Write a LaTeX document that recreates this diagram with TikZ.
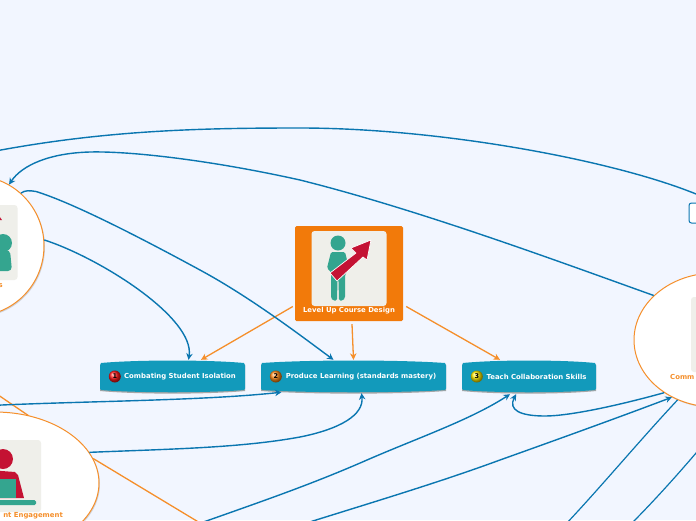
\documentclass[tikz,border=0pt]{standalone}
\usepackage{fontspec}
\setsansfont{DejaVu Sans}
\usetikzlibrary{positioning, shapes.geometric, shadows, arrows.meta}

\definecolor{pagebg}{HTML}{F2F6FF}
\definecolor{linkblue}{HTML}{0A76B0}
\definecolor{linkorange}{HTML}{F58F2B}
\definecolor{boxorange}{HTML}{F27A0A}
\definecolor{barblue}{HTML}{129ABB}
\definecolor{iconbg}{HTML}{EFEFEA}
\definecolor{iconteal}{HTML}{34A58F}
\definecolor{iconred}{HTML}{C41233}

\tikzset{
	smalltext/.style={font=\sffamily\bfseries\fontsize{6.9}{8}\selectfont},
	link/.style={draw=linkblue, line width=1.4pt, -{Stealth[length=6.5pt, width=6.5pt]}},
	plainlink/.style={draw=linkblue, line width=1.4pt},
	thinlink/.style={draw=linkblue, line width=1.2pt},
	branch/.style={draw=linkorange, line width=1.3pt, -{Stealth[length=6.5pt, width=6.5pt]}},
	plainbranch/.style={draw=linkorange, line width=1.3pt},
	bubble/.style={ellipse, draw=linkorange, fill=white, line width=1pt, inner sep=0pt, drop shadow={shadow xshift=1pt, shadow yshift=-1.2pt, opacity=.3}},
	bubbletext/.style={smalltext, text=linkorange, inner sep=0pt},
	iconbox/.style={fill=iconbg, rounded corners=3pt, inner sep=0pt},
	topic/.style={smalltext, text=white, inner sep=0pt, minimum height=33pt},
	badge/.style={circle, inner sep=0pt, minimum size=12pt, font=\sffamily\bfseries\fontsize{6.5}{7}\selectfont}
}

% bar body first, then its node: name, centre x, width, text
\newcommand{\topicbar}[4]{
	\begin{scope}[shift={(#2,376.5)}]
		\fill [black!35] ({-#3/2},-12) -- ({-#3/2},14.5) .. controls ({-#3/4},18) and ({#3/4},18) .. ({#3/2},14.5) -- ({#3/2},-12) -- cycle;
		\fill [barblue] ({-#3/2+1},-13.5) .. controls ({-#3/4},-16.8) and ({#3/4},-16.8) .. ({#3/2-1},-13.5) -- ({#3/2},-11) -- ({#3/2},12) -- ({#3/2-1},13.5) .. controls ({#3/4},16.5) and ({-#3/4},16.5) .. ({-#3/2+1},13.5) -- ({-#3/2},12) -- ({-#3/2},-11) -- cycle;
	\end{scope}
	\node [topic, minimum width=#3pt] (#1) at (#2,376.5) {\hspace*{15pt}#4};
}

\begin{document}
\begin{tikzpicture}[x=1pt, y=-1pt]
	\useasboundingbox (0,0) rectangle (696,520);
	\clip (0,0) rectangle (696,520);
	\fill [pagebg] (0,0) rectangle (696,520);

	\coordinate (topend) at (-20,154);
	\coordinate (sideend) at (-20,406);
	\coordinate (branchin) at (-15,386);
	\coordinate (branchout) at (215,532);
	\coordinate (lowone) at (195,525);
	\coordinate (lowtwo) at (300,525);
	\coordinate (lowthree) at (565,525);
	\coordinate (lowfour) at (630,525);
	\coordinate (sidefour) at (702,446);

	\node [draw=linkblue, fill=white, line width=1pt, rounded corners=2.5pt, minimum width=52pt, minimum height=20pt] (note) at (715,213) {};

	% main box and the bars under it
	\node [fill=boxorange, rounded corners=1.5pt, minimum width=108pt, minimum height=95pt, inner sep=0pt] (course) at (349,273.5) {};
	\node [iconbox, minimum width=75pt, minimum height=75pt, below=5pt of course.north] (courseicon) {};
	\node [smalltext, text=white, inner sep=0pt] (coursetitle) at (349,311) {Level Up Course Design};

	\topicbar{isolation}{172.5}{145}{Combating Student Isolation}
	\topicbar{learning}{353.5}{185}{Produce Learning (standards mastery)}
	\topicbar{collab}{529}{134}{Teach Collaboration Skills}

	\node [badge, ball color=red!90, text=black, right=15pt of isolation.west, anchor=center] (badgeone) {1};
	\node [badge, ball color=orange!90, text=black, right=15pt of learning.west, anchor=center] (badgetwo) {2};
	\node [badge, ball color=yellow!85!orange, text=black, right=15pt of collab.west, anchor=center] (badgethree) {3};

	\draw [plainbranch] (branchin) -- (29,416);

	\node [bubble, minimum width=138pt, minimum height=140pt] (sidecircle) at (-25,246) {};
	\node [bubble, minimum width=208pt, minimum height=142pt] (lowcircle) at (-5,483) {};
	\node [bubble, minimum width=162pt, minimum height=134pt] (rightcircle) at (715,340) {};

	\node [iconbox, minimum width=77pt, minimum height=75pt] (sideicon) at (-21,242.5) {};
	\node [iconbox, minimum width=77pt, minimum height=72pt] (lowicon) at (2.5,476) {};
	\node [iconbox, minimum width=77pt, minimum height=75pt] (righticon) at (729.5,334.5) {};

	\node [bubbletext, anchor=east] (sidetitle) at (3,286) {s};
	\node [bubbletext, anchor=east] (lowtitle) at (63,516) {nt Engagement};
	\node [bubbletext, anchor=west] (righttitle) at (670,377) {Comm};

	% person with arrow
	\fill [iconteal] (338,243) circle (7.5);
	\fill [iconteal, rounded corners=1.5pt] (331,252) -- (345,252) -- (349,268) -- (345,275) -- (345,298) -- (343,300.5) -- (339,300.5) -- (338.5,280) -- (337.5,280) -- (337,300.5) -- (333,300.5) -- (331,298) -- (331,272) -- (327,268) -- cycle;
	\draw [fill=iconred, draw=white, line width=.7pt, line join=round] (351,248) -- (371,240) -- (367,260) -- (363,257) -- (337,281) -- (330,273) -- (356,253) -- cycle;

	% side and low icons
	\fill [iconred] (-3,213) -- (2,220) -- (-3,220) -- cycle;
	\fill [iconteal] (3,243) circle (9);
	\fill [iconteal, rounded corners=4pt] (-12,250) -- (10,250) -- (12,271) -- (-12,271) -- cycle;
	\fill [iconred] (3,459) circle (10);
	\fill [iconred] (-12,470) -- (15,472) -- (18,475) -- (24,498) -- (-12,498) -- cycle;
	\fill [iconteal] (-12,479) rectangle (16,498);
	\fill [iconteal, rounded corners=1.5pt] (-12,500) rectangle (36,505);

	% course branches
	\draw [branch] ([xshift=-2pt, yshift=-33pt]course.west) -- ([xshift=28.5pt]isolation.north);
	\draw [branch] ([xshift=3pt, yshift=-3pt]course.south) -- (learning.north);
	\draw [branch] ([xshift=3pt, yshift=-33pt]course.east) -- ([xshift=-29pt]collab.north);
	\draw [plainbranch] (lowcircle.14) -- (branchout);

	% blue connectors
	\draw [plainlink] (topend) .. controls (100,130) and (200,128) .. (300,128) .. controls (450,128) and (640,165) .. (note.north);
	\draw [link] (rightcircle.144) .. controls (560,262) and (420,210) .. (300,180) .. controls (210,160) and (130,151) .. (90,152) .. controls (50,153) and (22,165) .. (sidecircle.61);
	\draw [link] (sidecircle.49) .. controls (25,190) and (30,190.5) .. (36,191.5) .. controls (70,202) and (130,232) .. (200,270) .. controls (250,297) and (300,335) .. ([xshift=-20pt]learning.north);
	\draw [link] (sidecircle.5) .. controls (100,258) and (195,318) .. ([xshift=16pt]isolation.north);
	\draw [link] (sideend) .. controls (80,401) and (200,401) .. ([xshift=-72pt, yshift=1pt]learning.south);
	\draw [link] (lowcircle.18) .. controls (170,449) and (240,448) .. (300,437) .. controls (340,429) and (364,415) .. ([xshift=8pt]learning.south);
	\draw [link] (lowone) .. controls (260,502) and (310,485) .. (367,460) .. controls (420,437) and (470,420) .. ([xshift=-19pt, yshift=-1pt]collab.south);
	\draw [link] (lowtwo) .. controls (380,500) and (440,482) .. (500,460) .. controls (570,435) and (625,415) .. (rightcircle.233);
	\draw [link] (rightcircle.226) .. controls (620,405) and (570,416) .. (545,416) .. controls (520,416) and (508,410) .. ([xshift=-13pt, yshift=-1pt]collab.south);
	\draw [thinlink] (rightcircle.238) .. controls (640,440) and (600,488) .. (lowthree);
	\draw [thinlink] (sidefour) .. controls (680,472) and (655,500) .. (lowfour);
\end{tikzpicture}
\end{document}
